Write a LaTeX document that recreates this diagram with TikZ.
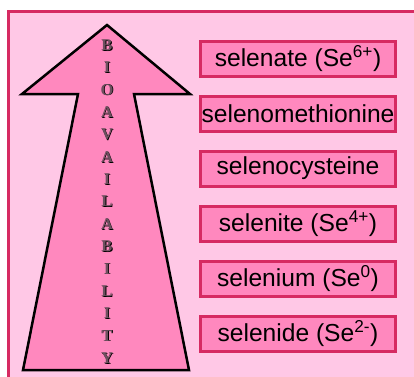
\documentclass[tikz,border=0pt]{standalone}
\usepackage{fontspec}
\setmainfont{Liberation Sans}
\newfontfamily\decofont{Liberation Serif}
\definecolor{bgpink}{RGB}{255,200,230}
\definecolor{midpink}{RGB}{255,136,190}
\definecolor{crimson}{RGB}{214,42,98}
\definecolor{lettergray}{RGB}{110,80,95}
\begin{document}
\begin{tikzpicture}[x=1pt,y=-1pt,
  frame/.style={draw=crimson,line width=3pt,fill=bgpink},
  arrowshape/.style={draw=black,line width=2.5pt,fill=midpink,line join=miter},
  selbox/.style={draw=crimson,line width=3pt,fill=midpink,minimum width=195pt,minimum height=35pt,inner sep=0pt,font=\fontsize{24.6}{28}\selectfont},
  letter/.style={font=\decofont\bfseries\fontsize{16.5}{18}\selectfont,text=lettergray,inner sep=0pt},
  lettershadow/.style={font=\decofont\bfseries\fontsize{16.5}{18}\selectfont,text=black,inner sep=0pt}]
\useasboundingbox (0,0) rectangle (414,376);
\clip (0,0) rectangle (414,376);
\fill[white] (0,0) rectangle (414,376);
\draw[frame] (8,11) rectangle (440,400);
\draw[arrowshape] (107,25) -- (190,94) -- (134,94) -- (189,370) -- (23,370) -- (78,94) -- (22,94) -- cycle;
\foreach \l [count=\i] in {B,I,O,A,V,A,I,L,A,B,I,L,I,T,Y}{
  \node[lettershadow] (s\i) at ({107.8},{45.8+22.36*(\i-1)}) {\l};
  \node[letter] (l\i) at (107,{45+22.36*(\i-1)}) {\l};
}
\node[selbox] (b1) at (298,59) {selenate (Se\textsuperscript{6+})};
\node[selbox] (b2) at (298,114) {selenomethionine};
\node[selbox] (b3) at (298,168.5) {selenocysteine};
\node[selbox] (b4) at (298,223.5) {selenite (Se\textsuperscript{4+})};
\node[selbox] (b5) at (298,278.5) {selenium (Se\textsuperscript{0})};
\node[selbox] (b6) at (298,333.5) {selenide (Se\textsuperscript{2-})};
\end{tikzpicture}
\end{document}
